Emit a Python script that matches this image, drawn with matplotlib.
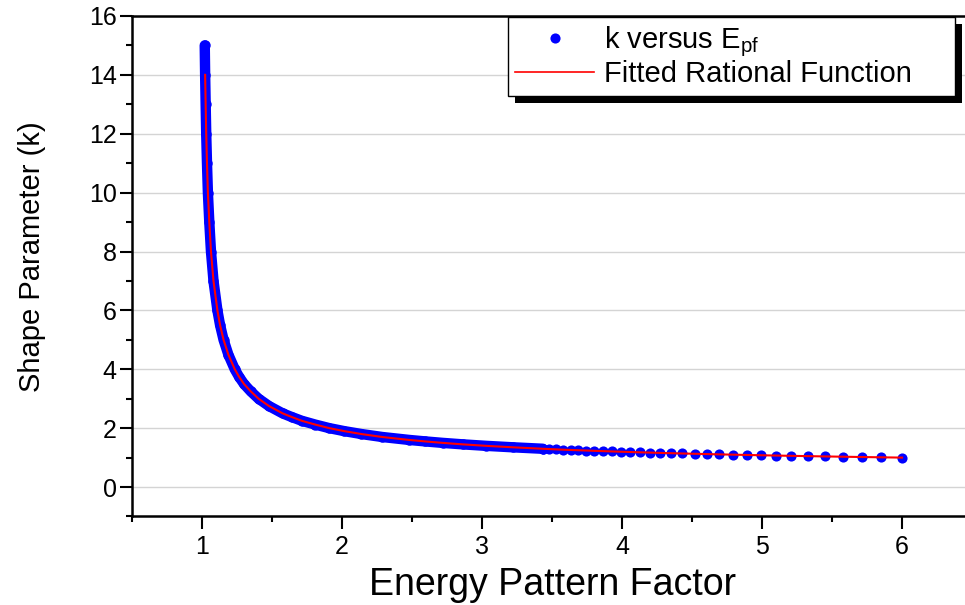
import matplotlib
matplotlib.use('Agg')
import matplotlib.pyplot as plt
from matplotlib.lines import Line2D
from matplotlib.patches import Rectangle

plt.rcParams['font.family'] = ['Liberation Sans', 'DejaVu Sans']
plt.rcParams['mathtext.default'] = 'regular'

# sparse end of the curve (individual dots visible)
k_dots = [1.00, 1.01, 1.02, 1.03, 1.04, 1.05, 1.06, 1.07, 1.08, 1.09, 1.10,
          1.11, 1.12, 1.13, 1.14, 1.15, 1.16, 1.17, 1.18, 1.19, 1.20,
          1.21, 1.22, 1.23, 1.24, 1.25, 1.26, 1.27, 1.28, 1.29, 1.30]
epf_dots = [6.000, 5.852, 5.714, 5.578, 5.452, 5.328, 5.209, 5.097, 4.992, 4.890, 4.792,
            4.694, 4.607, 4.518, 4.430, 4.351, 4.272, 4.201, 4.125, 4.056, 3.990,
            3.925, 3.863, 3.801, 3.744, 3.687, 3.632, 3.575, 3.530, 3.480, 3.435]

# dense part of the curve (points merge into a band)
k_band = [1.30, 1.35, 1.40, 1.45, 1.50, 1.55, 1.60, 1.70, 1.80, 1.90, 2.00,
          2.12, 2.25, 2.38, 2.50, 2.75, 3.00, 3.25, 3.50, 3.75, 4.00, 4.50,
          5.00, 5.50, 6.00, 7.00, 8.00, 9.00, 10.0, 11.0, 12.0, 13.0, 14.0, 15.0]
epf_band = [3.435, 3.220, 3.027, 2.862, 2.719, 2.594, 2.480, 2.287, 2.139, 2.015, 1.910,
            1.810, 1.713, 1.640, 1.577, 1.479, 1.404, 1.348, 1.300, 1.264, 1.234, 1.188,
            1.154, 1.129, 1.110, 1.082, 1.064, 1.052, 1.042, 1.0355, 1.030, 1.026, 1.0223, 1.0195]

# fitted rational function (follows the points up to k = 14)
fit_epf = [e for e, k in zip(epf_band, k_band) if k <= 14][::-1] + epf_dots[::-1][1:]
fit_k = [k for k in k_band if k <= 14][::-1] + k_dots[::-1][1:]

fig = plt.figure(figsize=(9.65, 6.05), dpi=100)
ax = fig.add_axes([0.1368, 0.1463, 0.8705, 0.8273])

blue = '#0000ff'
ax.plot(epf_band, k_band, '-', color=blue, lw=7.5, solid_capstyle='round',
        solid_joinstyle='round', zorder=3)
ax.plot(epf_band, k_band, 'o', color=blue, ms=7.5, mec='none', zorder=3)
ax.plot(epf_dots, k_dots, 'o', color=blue, ms=7.3, mec='none', zorder=3)
ax.plot(fit_epf, fit_k, '-', color='#ff0000', lw=1.5, zorder=4)

ax.set_xlim(0.5, 6.5)
ax.set_ylim(-1, 16)
ax.set_xticks([1, 2, 3, 4, 5, 6])
ax.set_xticks([0.5, 1.5, 2.5, 3.5, 4.5, 5.5, 6.5], minor=True)
ax.set_yticks([0, 2, 4, 6, 8, 10, 12, 14, 16])
ax.set_yticks([-1, 1, 3, 5, 7, 9, 11, 13, 15], minor=True)

ax.yaxis.grid(True, color='#d4d4d4', lw=1)
ax.set_axisbelow(True)

for s in ax.spines.values():
    s.set_linewidth(1.8)
ax.tick_params(which='major', direction='out', length=9, width=1.5,
               labelsize=18, pad=2)
ax.tick_params(which='minor', direction='out', length=4.5, width=1.5)
ax.tick_params(axis='x', which='major', pad=4)

ax.set_xlabel('Energy Pattern Factor', fontsize=27, labelpad=6)
ax.set_ylabel('Shape Parameter (k)', fontsize=21)
ax.yaxis.set_label_coords(-0.102, 0.52)

h1 = Line2D([], [], ls='none', marker='o', color=blue, ms=7.3, mec='none')
h2 = Line2D([], [], color='#ff0000', lw=1.2)
leg = fig.legend([h1, h2], ['k versus E$_{pf}$', 'Fitted Rational Function'],
                 loc='upper left', bbox_to_anchor=(508 / 965, 1 - 17 / 605, 447 / 965, 0),
                 mode='expand', borderaxespad=0, fontsize=21, numpoints=1,
                 handlelength=2.7, handletextpad=0.34, borderpad=0.25,
                 labelspacing=0.05, fancybox=False, framealpha=1)
leg.get_frame().set_edgecolor('black')
leg.get_frame().set_linewidth(1.0)
leg.set_zorder(6)

fig.canvas.draw()
bb = leg.get_window_extent()
W, H = fig.bbox.width, fig.bbox.height
shadow = Rectangle(((bb.x0 + 7) / W, (bb.y0 - 7) / H), bb.width / W, bb.height / H,
                   transform=fig.transFigure, facecolor='black', edgecolor='none', zorder=5)
fig.add_artist(shadow)

fig.savefig('out.png', dpi=100)
